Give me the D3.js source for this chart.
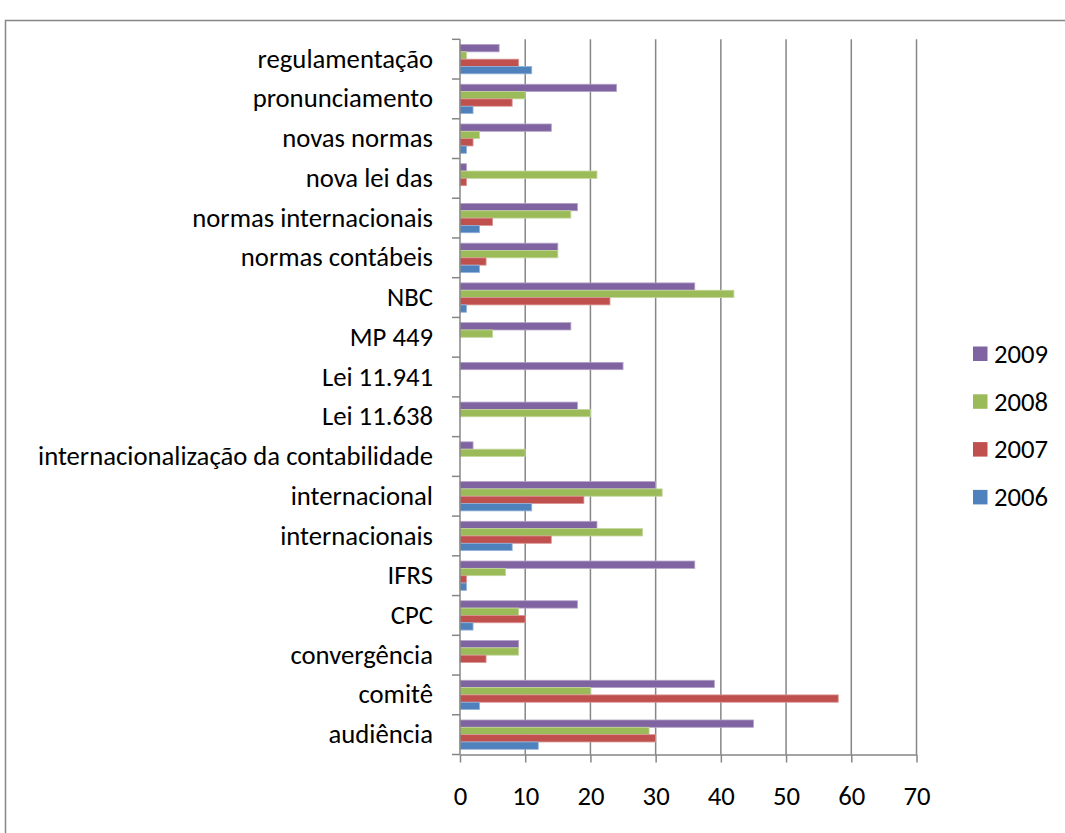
<!DOCTYPE html>
<html><head><meta charset="utf-8">
<script src="https://cdn.jsdelivr.net/npm/d3@7"></script>
<style>body{margin:0;background:#fff;} text{font-family:Carlito,Lato,"Open Sans",sans-serif;}</style>
</head><body><svg id="c" width="1065" height="833"></svg>
<script>
const categories = ["regulamentação","pronunciamento","novas normas","nova lei das","normas internacionais","normas contábeis","NBC","MP 449","Lei 11.941","Lei 11.638","internacionalização da contabilidade","internacional","internacionais","IFRS","CPC","convergência","comitê","audiência"];
const seriesNames = ["2009","2008","2007","2006"];
const v2009 = [6,24,14,1,18,15,36,17,25,18,2,30,21,36,18,9,39,45];
const v2008 = [1,10,3,21,17,15,42,5,0,20,10,31,28,7,9,9,20,29];
const v2007 = [9,8,2,1,5,4,23,0,0,0,0,19,14,1,10,4,58,30];
const v2006 = [11,2,1,0,3,3,1,0,0,0,0,11,8,1,2,0,3,12];
const xTicks = [0,10,20,30,40,50,60,70];
const colors = {"2009":"#8064A2","2008":"#9BBB59","2007":"#C0504D","2006":"#4F81BD"};
const strokes = {"2009":"#b3a2c7","2008":"#c3d69b","2007":"#d99694","2006":"#95b3d7"};
const values = {"2009":v2009,"2008":v2008,"2007":v2007,"2006":v2006};
const FS = 26.7;

const svg = d3.select("#c");
// border
svg.append("path").attr("d","M5.5,833 V20.5 H1065").attr("fill","none").attr("stroke","#868686").attr("stroke-width",1.5);

const x = d3.scaleLinear().domain([0,70]).range([460,916.5]);
const y = d3.scaleBand().domain(categories).range([39.3,754.5]);
const ys = d3.scaleBand().domain(seriesNames).range([0,y.bandwidth()]).paddingOuter(0.71);

// gridlines
svg.append("g").selectAll("line").data(xTicks.slice(1)).join("line")
  .attr("x1",d=>x(d)).attr("x2",d=>x(d)).attr("y1",39.3).attr("y2",754.5)
  .attr("stroke","#868686").attr("stroke-width",1.5);

// bars
categories.forEach((c,i)=>{
  seriesNames.forEach(s=>{
    const val = values[s][i];
    if(val<=0) return;
    svg.append("rect").attr("x",x(0)).attr("y",y(c)+ys(s))
      .attr("width",x(val)-x(0)).attr("height",ys.bandwidth())
      .attr("fill",colors[s]).attr("stroke",strokes[s]).attr("stroke-width",0.8);
  });
});

// y axis
const ya = svg.append("g").attr("transform","translate(460,0)").call(d3.axisLeft(y).tickSize(0).tickPadding(27));
ya.select(".domain").remove();
ya.selectAll("text").attr("font-size",FS).attr("fill","#000").attr("font-family","Carlito,Lato,sans-serif");
// category tick marks on boundaries
const bounds = categories.map(c=>y(c)).concat([754.5]);
svg.append("g").selectAll("line").data(bounds).join("line")
  .attr("x1",452).attr("x2",460).attr("y1",d=>d).attr("y2",d=>d)
  .attr("stroke","#868686").attr("stroke-width",1.5);
svg.append("line").attr("x1",460).attr("x2",460).attr("y1",39.3).attr("y2",754.5).attr("stroke","#868686").attr("stroke-width",1.5);

// x axis
const xa = svg.append("g").attr("transform","translate(0,754.5)").call(d3.axisBottom(x).tickValues(xTicks).tickSize(8).tickPadding(24).tickSizeOuter(0));
xa.select(".domain").attr("stroke","#868686").attr("stroke-width",1.5);
xa.selectAll("line").attr("stroke","#868686").attr("stroke-width",1.5);
xa.selectAll("text").attr("font-size",FS).attr("fill","#000").attr("font-family","Carlito,Lato,sans-serif");

// legend
const lg = svg.append("g");
seriesNames.forEach((s,i)=>{
  const cy = 353.5 + i*47.8;
  lg.append("rect").attr("x",973).attr("y",cy-7).attr("width",14.5).attr("height",14.5).attr("fill",colors[s]);
  lg.append("text").attr("x",994).attr("y",cy).attr("dy","0.35em").attr("font-size",FS).text(s);
});
</script></body></html>
